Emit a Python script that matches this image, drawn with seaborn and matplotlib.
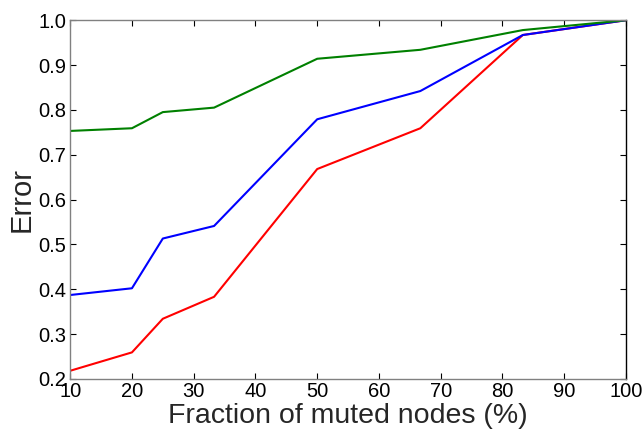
import matplotlib
matplotlib.use("Agg")
import matplotlib.pyplot as plt
import seaborn as sns
import pandas as pd

fraction = [10, 20, 25, 33.3, 50, 66.7, 83.3, 100]
green_err = [0.753, 0.759, 0.795, 0.805, 0.914, 0.934, 0.978, 1.0]
blue_err = [0.387, 0.402, 0.513, 0.541, 0.779, 0.842, 0.967, 1.0]
red_err = [0.218, 0.259, 0.334, 0.383, 0.668, 0.759, 0.967, 1.0]

series_names = ["red", "blue", "green"]
series_vals = [red_err, blue_err, green_err]
colors = {"red": "#ff0000", "blue": "#0000ff", "green": "#008000"}

rows = []
for name, vals in zip(series_names, series_vals):
    for x, y in zip(fraction, vals):
        rows.append({"fraction": x, "error": y, "series": name})
df = pd.DataFrame(rows)

sns.set_style("ticks", {
    "xtick.direction": "in", "ytick.direction": "in",
})
plt.rcParams["font.family"] = ["Liberation Sans", "DejaVu Sans"]
plt.rcParams["xtick.top"] = True
plt.rcParams["ytick.right"] = True

fig = plt.figure(figsize=(6.44, 4.30), dpi=100)
ax = fig.add_axes([0.109, 0.119, 0.863, 0.834])
sns.lineplot(data=df, x="fraction", y="error", hue="series",
             palette=colors, hue_order=series_names, ax=ax,
             linewidth=1.5, legend=False)
ax.set_xlim(10, 100)
ax.set_ylim(0.2, 1.0)
ax.set_xticks(range(10, 101, 10))
yt = [0.2, 0.3, 0.4, 0.5, 0.6, 0.7, 0.8, 0.9, 1.0]
ax.set_yticks(yt)
ax.set_yticklabels([f"{v:.1f}" for v in yt])
ax.tick_params(axis="both", which="both", direction="in", length=4, width=0.8,
               labelsize=14.5, colors="black", top=True, right=True)
ax.tick_params(axis="x", pad=2)
ax.tick_params(axis="y", pad=3)
for name, s in ax.spines.items():
    s.set_visible(True)
    s.set_linewidth(1.0)
    s.set_color("black" if name == "right" else "#808080")
ax.set_xlabel("Fraction of muted nodes (%)", fontsize=20.5, labelpad=2)
ax.set_ylabel("Error", fontsize=21, labelpad=2)
fig.savefig("out.png", dpi=100)
